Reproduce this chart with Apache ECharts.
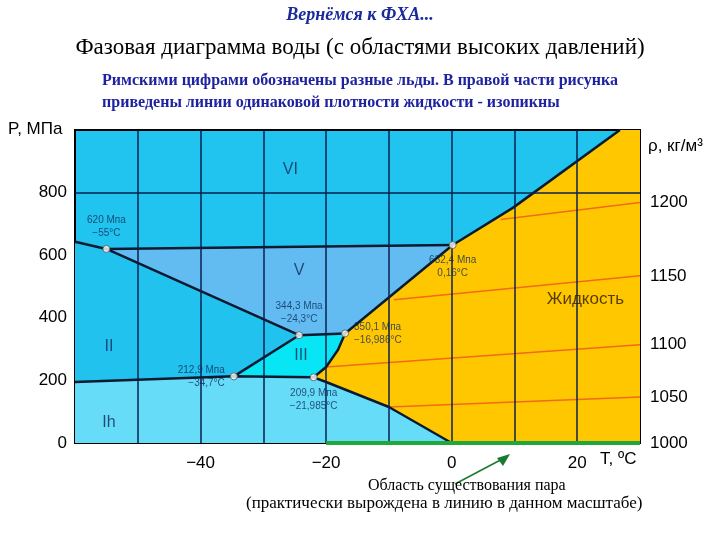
<!DOCTYPE html>
<html>
<head>
<meta charset="utf-8">
<script src="https://cdn.jsdelivr.net/npm/echarts@6/dist/echarts.min.js"></script>
</head>
<body style="margin:0">
<div id="main" style="width:720px;height:540px;"></div>
<script>
// phase regions, [T °C, P МПа]
var iceIh = [[-60,0],[-60,195],[-34.7,212.9],[-21.985,209.9],[-20,195],[-10,115],[0,0]];
var iceII = [[-60,195],[-60,643],[-55,620],[-24.3,344.3],[-34.7,212.9]];
var iceV = [[-55,620],[0.16,632.4],[-16.986,350.1],[-24.3,344.3]];
var iceIII = [[-34.7,212.9],[-24.3,344.3],[-16.986,350.1],[-18.1,298],[-20,243],[-21.985,209.9]];
var liquid = [[0,0],[30,0],[30,1000],[26.8,1000],[9.8,752],[0.16,632.4],[-16.986,350.1],[-18.1,298],[-20,243],[-21.985,209.9],[-20,195],[-10,115]];

// boundaries
var boundaries = [
  [[-60,643],[-55,620],[-24.3,344.3]],
  [[-55,620],[0.16,632.4]],
  [[-60,195],[-34.7,212.9],[-21.985,209.9]],
  [[-34.7,212.9],[-24.3,344.3],[-16.986,350.1]],
  [[-21.985,209.9],[-20,243],[-18.1,298],[-16.986,350.1],[0.16,632.4],[9.8,752],[26.8,1000]],
  [[-21.985,209.9],[-20,195],[-10,115],[0,0]]
];

// isopycnics
var densities = ['1050','1100','1150','1200'];
var isopycnics = [
  [[-10,115],[30,147]],
  [[-20,243],[30,314]],
  [[-9.2,458],[30,534]],
  [[7.8,714],[30,768]]
];

var gridT = [-50,-40,-30,-20,-10,0,10,20];
var gridP = [800];

var triplePoints = [
  [-55,620,'620 Мпа\n−55°C','top'],
  [-34.7,212.9,'212,9 Мпа\n−34,7°C','left'],
  [-24.3,344.3,'344,3 Мпа\n−24,3°C','top'],
  [-21.985,209.9,'209,9 Мпа\n−21,985°C','bottom'],
  [-16.986,350.1,'350,1 Мпа\n−16,986°C','right'],
  [0.16,632.4,'632,4 Мпа\n0,16°C','bottom']
];

var regionLabels = [
  [-25.7,874,'VI'],[-24.3,550,'V'],[-54.6,307,'II'],[-24,278,'III'],[-54.6,64,'Ih']
];

var myChart = echarts.init(document.getElementById('main'));

function poly(pts, color) {
  return {
    type: 'custom', silent: true, data: [0], z: 1,
    renderItem: function (params, api) {
      return { type: 'polygon', shape: { points: pts.map(function (p) { return api.coord(p); }) },
        style: { fill: color } };
    }
  };
}

var series = [
  poly(iceIh, '#66dcf8'),
  poly(iceII, '#22c2ee'),
  poly(iceV, '#62bcf2'),
  poly(iceIII, '#08e6f6'),
  poly(liquid, '#ffc700'),
  { type: 'line', data: [], z: 2, silent: true,
    markLine: { symbol: 'none', silent: true, label: { show: false },
      lineStyle: { color: '#0a2050', width: 1.5, type: 'solid' },
      data: gridT.map(function (t) { return { xAxis: t }; })
        .concat(gridP.map(function (p) { return { yAxis: p }; })) } }
];
isopycnics.forEach(function (d, i) {
  series.push({ type: 'line', data: d, symbol: 'none', z: 3,
    lineStyle: { color: '#f26a1b', width: 1.5 },
    endLabel: { show: true, formatter: densities[i], distance: 10, fontSize: 17,
      fontFamily: 'Liberation Sans', color: '#000' } });
});
boundaries.forEach(function (d) {
  series.push({ type: 'line', data: d, symbol: 'none', z: 4,
    lineStyle: { color: '#0b1a30', width: 2.5 } });
});
series.push({ type: 'line', data: [[-20,0],[30,0]], symbol: 'none', z: 5,
  lineStyle: { color: '#22a83a', width: 4 },
  endLabel: { show: true, formatter: '1000', distance: 10, fontSize: 17,
    fontFamily: 'Liberation Sans', color: '#000' } });
series.push({ type: 'scatter', z: 6, symbolSize: 7,
  itemStyle: { color: '#fff', borderColor: '#555', borderWidth: 1 },
  data: triplePoints.map(function (p) {
    return { value: [p[0], p[1]], label: { show: true, formatter: p[2], position: p[3],
      fontSize: 10, color: '#0f2a5a', fontFamily: 'Liberation Sans', lineHeight: 13 } };
  }) });
series.push({ type: 'scatter', z: 6, symbolSize: 0,
  data: regionLabels.map(function (p) {
    return { value: [p[0], p[1]], label: { show: true, formatter: p[2], position: 'inside',
      fontSize: 16, color: '#10285a', fontFamily: 'Liberation Sans' } };
  }).concat([{ value: [21.3,458], label: { show: true, formatter: 'Жидкость', position: 'inside',
      fontSize: 17, color: '#2a1a00', fontFamily: 'Liberation Sans' } }]) });

var option = {
  animation: false,
  grid: { left: 75, right: 80, top: 130, bottom: 97, show: true,
    backgroundColor: '#20c4ee', borderColor: '#000', borderWidth: 2 },
  xAxis: {
    type: 'value', min: -60, max: 30, interval: 10,
    axisLine: { show: false }, axisTick: { show: false }, splitLine: { show: false },
    axisLabel: { fontSize: 17, color: '#000', fontFamily: 'Liberation Sans', margin: 12,
      formatter: function (v) { return (v % 20 === 0 && v > -60 && v < 30) ? String(v).replace('-', '−') : ''; } }
  },
  yAxis: {
    type: 'value', min: 0, max: 1000, interval: 200,
    axisLine: { show: false }, axisTick: { show: false }, splitLine: { show: false },
    axisLabel: { fontSize: 17, color: '#000', fontFamily: 'Liberation Sans', margin: 8,
      formatter: function (v) { return v === 1000 ? '' : v; } }
  },
  graphic: [
    { type: 'text', left: 'center', top: 6, style: { text: 'Вернёмся к ФХА...', fontSize: 18,
      fontStyle: 'italic', fontWeight: 'bold', fontFamily: 'Liberation Serif', fill: '#1a2a9a' } },
    { type: 'text', left: 'center', top: 36, style: { text: 'Фазовая диаграмма воды (с областями высоких давлений)',
      fontSize: 23, fontFamily: 'Liberation Serif', fill: '#000' } },
    { type: 'text', left: 'center', top: 70, style: { text: 'Римскими цифрами обозначены разные льды. В правой части рисунка\nприведены линии одинаковой плотности жидкости - изопикны',
      fontSize: 16, fontWeight: 'bold', fontFamily: 'Liberation Serif', fill: '#1e22a0', align: 'center', lineHeight: 22 } },
    { type: 'text', left: 8, top: 121, style: { text: 'P, МПа', fontSize: 17, fontFamily: 'Liberation Sans', fill: '#000' } },
    { type: 'text', left: 648, top: 138, style: { text: 'ρ, кг/м³', fontSize: 17, fontFamily: 'Liberation Sans', fill: '#000' } },
    { type: 'text', left: 600, top: 451, style: { text: 'T, ºC', fontSize: 17, fontFamily: 'Liberation Sans', fill: '#000' } },
    { type: 'line', shape: { x1: 455, y1: 484, x2: 508, y2: 456 }, style: { stroke: '#1a7a30', lineWidth: 1.5 } },
    { type: 'polygon', shape: { points: [[510,454],[497,458],[503,466]] }, style: { fill: '#1a7a30' } },
    { type: 'text', left: 368, top: 478, style: { text: 'Область существования пара', fontSize: 16,
      fontFamily: 'Liberation Serif', fill: '#000' } },
    { type: 'text', left: 246, top: 495, style: { text: '(практически вырождена в линию в данном масштабе)', fontSize: 17,
      fontFamily: 'Liberation Serif', fill: '#000' } }
  ],
  series: series
};
myChart.setOption(option);
</script>
</body>
</html>
